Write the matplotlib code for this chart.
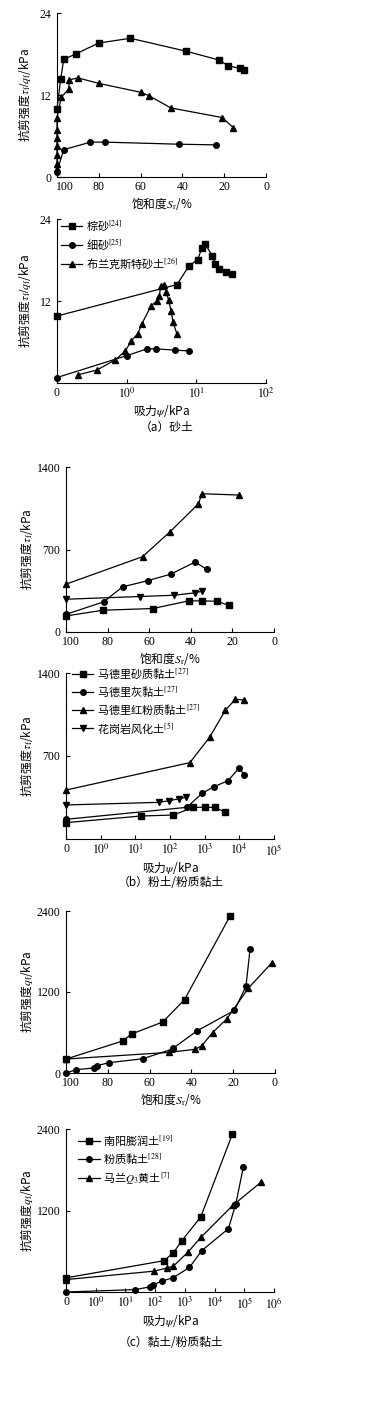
import numpy as np
import matplotlib
matplotlib.use('Agg')
import matplotlib.pyplot as plt
from matplotlib.ticker import FixedLocator, NullLocator
from matplotlib.transforms import ScaledTranslation

plt.rcParams['font.family'] = ['Liberation Serif', 'Noto Sans CJK SC']
plt.rcParams['mathtext.fontset'] = 'stix'
plt.rcParams['font.size'] = 8
plt.rcParams['xtick.direction'] = 'in'
plt.rcParams['ytick.direction'] = 'in'

CJK = 'Noto Sans CJK SC'

# (a) sand -- saturation
a1_brown_sr = [100, 98.2, 96.8, 91.1, 80.1, 64.9, 38.1, 22.3, 18.3, 12.6, 10.5]
a1_brown_tau = [10.0, 14.4, 17.2, 18.0, 19.6, 20.3, 18.4, 17.1, 16.3, 15.9, 15.6]
a1_fine_sr = [100, 96.8, 84.0, 76.9, 41.8, 23.9]
a1_fine_tau = [0.8, 4.0, 5.1, 5.1, 4.8, 4.7]
a1_brook_sr = [100, 100, 100, 100, 100, 100, 100, 97.9, 94.3, 94.3, 90.0, 80.0,
               60.0, 56.0, 45.5, 20.9, 15.6]
a1_brook_tau = [1.2, 1.9, 3.2, 4.5, 5.7, 6.9, 8.7, 11.7, 12.9, 14.2, 14.5, 13.7,
                12.4, 11.9, 10.1, 8.7, 7.2]

# (a) sand -- suction
a2_brown_psi = [0, 5.27, 7.8, 10.4, 12.0, 13.3, 17.0, 18.8, 21.4, 26.4, 32.0]
a2_brown_tau = [9.8, 14.4, 17.1, 18.05, 19.7, 20.4, 18.6, 17.4, 16.7, 16.3, 15.9]
a2_fine_psi = [0, 1.0, 1.96, 2.67, 5.0, 7.8]
a2_fine_tau = [0.8, 4.0, 5.0, 5.0, 4.8, 4.7]
a2_brook_psi = [0.2, 0.375, 0.69, 0.96, 1.17, 1.44, 1.66, 2.24, 2.72, 2.94, 3.08,
                3.47, 3.71, 4.0, 4.33, 4.63, 5.26]
a2_brook_tau = [1.2, 1.9, 3.4, 4.7, 6.2, 7.2, 8.7, 11.3, 12.0, 12.7, 14.2,
                14.3, 13.3, 12.1, 10.6, 8.9, 7.2]

# (b) silt -- saturation
b1_sandy_sr = [100, 82.2, 58.2, 41.1, 34.7, 27.5, 21.8]
b1_sandy_tau = [136, 185, 199, 264, 264, 261, 227]
b1_grey_sr = [100, 81.9, 72.8, 60.8, 49.6, 37.9, 32.3]
b1_grey_tau = [150, 256, 383, 435, 491, 594, 531]
b1_red_sr = [100, 63.2, 49.9, 36.3, 34.7, 16.6]
b1_red_tau = [406, 639, 852, 1088, 1173, 1162]
b1_gran_sr = [100, 64.6, 48.0, 38.2, 34.7]
b1_gran_tau = [278, 301, 312, 332, 346]

# (b) silt -- suction
b2_sandy_psi = [0, 14.8, 124, 474, 1000, 1930, 3980]
b2_sandy_tau = [138, 194, 202, 267, 267, 267, 225]
b2_grey_psi = [0, 306, 840, 1850, 4750, 10000, 13800]
b2_grey_tau = [166, 267, 385, 441, 492, 602, 537]
b2_red_psi = [0, 373, 1383, 3980, 7690, 13800]
b2_red_tau = [413, 644, 857, 1088, 1178, 1172]
b2_gran_psi = [0, 47, 95, 185, 286]
b2_gran_tau = [287, 309, 323, 340, 351]

# (c) clay -- saturation
c1_nanyang_sr = [100, 72.9, 68.6, 53.7, 43.3, 21.5]
c1_nanyang_q = [207, 474, 578, 756, 1086, 2326]
c1_silty_sr = [100, 95.2, 86.8, 85.2, 79.3, 63.2, 48.9, 48.6, 37.4, 19.4, 13.9, 11.9]
c1_silty_q = [0, 49, 74, 109, 153, 212, 356, 370, 622, 928, 1284, 1842]
c1_loess_sr = [100, 50.5, 38.2, 35.0, 29.9, 23.1, 12.7, 1.6]
c1_loess_q = [207, 306, 351, 405, 598, 800, 1259, 1630]

# (c) clay -- suction
c2_nanyang_psi = [0, 200, 414, 789, 3430, 39800]
c2_nanyang_q = [208, 461, 580, 754, 1106, 2325]
c2_silty_psi = [0, 21, 65, 88, 168, 414, 1430, 3720, 29200, 51300, 93000]
c2_silty_q = [0, 35, 74, 109, 159, 213, 362, 610, 932, 1289, 1839]
c2_loess_psi = [0, 93, 246, 414, 1260, 3430, 40600, 375000]
c2_loess_q = [183, 307, 352, 382, 585, 803, 1274, 1621]

W, H = 392, 1415
fig = plt.figure(figsize=(W / 100, H / 100), dpi=100)


def rect(x0, y0, x1, y1):
    return [x0 / W, 1 - y1 / H, (x1 - x0) / W, (y1 - y0) / H]


def fwd(x):
    return np.log10(np.maximum(x, 0.1))


def inv(y):
    return 10.0 ** y


def style(ax):
    for s in ['top', 'right']:
        ax.spines[s].set_visible(False)
    for s in ['left', 'bottom']:
        ax.spines[s].set_linewidth(0.8)
    ax.tick_params(length=3, width=0.8, labelsize=8.5)
    ax.tick_params(axis='x', pad=3)
    ax.tick_params(axis='y', pad=4)


def line(ax, x, y, m, ms=4, label=None):
    ax.plot(x, y, color='black', lw=0.9, marker=m, ms=ms, mfc='black',
            mec='black', clip_on=False, label=label)


def sat_axis(ax, ymax, yticks, shift):
    ax.set_xlim(100, 0)
    ax.set_ylim(0, ymax)
    ax.xaxis.set_major_locator(FixedLocator([100, 80, 60, 40, 20, 0]))
    ax.yaxis.set_major_locator(FixedLocator(yticks))
    ax.set_xlabel('饱和度$S_\\mathrm{r}$/%', family=CJK, fontsize=8.5, labelpad=1)
    # nudge "100" right so it clears the y-axis "0"
    lbl = ax.xaxis.get_major_ticks()[0].label1
    lbl.set_transform(lbl.get_transform() + ScaledTranslation(shift / 100, 0, fig.dpi_scale_trans))


def psi_axis(ax, xmax_exp, ymax, yticks):
    ax.set_xscale('function', functions=(fwd, inv))
    ax.set_xlim(0, 10.0 ** xmax_exp)
    ax.set_ylim(0, ymax)
    ticks = [0] + [10.0 ** k for k in range(0, xmax_exp + 1)]
    labels = ['0'] + ['$10^{%d}$' % k for k in range(0, xmax_exp + 1)]
    ax.xaxis.set_major_locator(FixedLocator(ticks))
    ax.set_xticklabels(labels)
    ax.xaxis.set_minor_locator(NullLocator())
    ax.yaxis.set_major_locator(FixedLocator(yticks))
    ax.set_xlabel('吸力$\\psi$/kPa', family=CJK, fontsize=8.5, labelpad=1)


def legend(ax, loc_xy):
    ax.legend(loc='upper left', bbox_to_anchor=loc_xy, frameon=False,
              prop={'family': CJK, 'size': 8}, handlelength=1.9,
              handletextpad=0.3, labelspacing=0.35, borderaxespad=0,
              borderpad=0)


# (a) sand
ax = fig.add_axes(rect(57, 13, 266, 177))
style(ax)
line(ax, a1_brown_sr, a1_brown_tau, 's')
line(ax, a1_fine_sr, a1_fine_tau, 'o')
line(ax, a1_brook_sr, a1_brook_tau, '^')
sat_axis(ax, 24, [0, 12, 24], 8)
ax.set_ylabel('抗剪强度$\\tau_\\mathrm{f}/q_\\mathrm{f}$/kPa', family=CJK, fontsize=8.5)
ax.yaxis.set_label_coords(-0.115, 0.5)

ax = fig.add_axes(rect(57, 219, 266, 383))
style(ax)
line(ax, a2_brown_psi, a2_brown_tau, 's', label='棕砂$^{[24]}$')
line(ax, a2_fine_psi, a2_fine_tau, 'o', label='细砂$^{[25]}$')
line(ax, a2_brook_psi, a2_brook_tau, '^', label='布兰克斯特砂土$^{[26]}$')
psi_axis(ax, 2, 24, [12, 24])
ax.set_ylabel('抗剪强度$\\tau_\\mathrm{f}/q_\\mathrm{f}$/kPa', family=CJK, fontsize=8.5)
ax.yaxis.set_label_coords(-0.115, 0.5)
legend(ax, (0.02, 1.0))

# (b) silt / silty clay
ax = fig.add_axes(rect(66, 467, 274, 632))
style(ax)
line(ax, b1_sandy_sr, b1_sandy_tau, 's')
line(ax, b1_grey_sr, b1_grey_tau, 'o')
line(ax, b1_red_sr, b1_red_tau, '^')
line(ax, b1_gran_sr, b1_gran_tau, 'v')
sat_axis(ax, 1400, [0, 700, 1400], 5)
ax.set_ylabel('抗剪强度$\\tau_\\mathrm{f}$/kPa', family=CJK, fontsize=8.5)
ax.yaxis.set_label_coords(-0.15, 0.5)

ax = fig.add_axes(rect(66, 673, 274, 839))
style(ax)
line(ax, b2_sandy_psi, b2_sandy_tau, 's', label='马德里砂质黏土$^{[27]}$')
line(ax, b2_grey_psi, b2_grey_tau, 'o', label='马德里灰黏土$^{[27]}$')
line(ax, b2_red_psi, b2_red_tau, '^', label='马德里红粉质黏土$^{[27]}$')
line(ax, b2_gran_psi, b2_gran_tau, 'v', label='花岗岩风化土$^{[5]}$')
psi_axis(ax, 5, 1400, [700, 1400])
ax.set_ylabel('抗剪强度$\\tau_\\mathrm{f}$/kPa', family=CJK, fontsize=8.5)
ax.yaxis.set_label_coords(-0.15, 0.5)
legend(ax, (0.03, 1.04))

# (c) clay / silty clay
ax = fig.add_axes(rect(66, 911, 275, 1073))
style(ax)
line(ax, c1_nanyang_sr, c1_nanyang_q, 's')
line(ax, c1_silty_sr, c1_silty_q, 'o')
line(ax, c1_loess_sr, c1_loess_q, '^')
sat_axis(ax, 2400, [0, 1200, 2400], 5)
ax.set_ylabel('抗剪强度$q_\\mathrm{f}$/kPa', family=CJK, fontsize=8.5)
ax.yaxis.set_label_coords(-0.15, 0.5)

ax = fig.add_axes(rect(66, 1129, 274, 1292))
style(ax)
line(ax, c2_nanyang_psi, c2_nanyang_q, 's', label='南阳膨润土$^{[19]}$')
line(ax, c2_silty_psi, c2_silty_q, 'o', label='粉质黏土$^{[28]}$')
line(ax, c2_loess_psi, c2_loess_q, '^', label='马兰$Q_3$黄土$^{[7]}$')
psi_axis(ax, 6, 2400, [1200, 2400])
ax.set_ylabel('抗剪强度$q_\\mathrm{f}$/kPa', family=CJK, fontsize=8.5)
ax.yaxis.set_label_coords(-0.15, 0.5)
legend(ax, (0.06, 0.97))

# captions
fig.text(167 / W, 1 - 427 / H, '（a）砂土', family=CJK, fontsize=8.5, ha='center', va='center')
fig.text(171 / W, 1 - 882 / H, '（b）粉土/粉质黏土', family=CJK, fontsize=8.5, ha='center', va='center')
fig.text(171 / W, 1 - 1342 / H, '（c）黏土/粉质黏土', family=CJK, fontsize=8.5, ha='center', va='center')

fig.savefig('out.png', dpi=100, facecolor='white')
